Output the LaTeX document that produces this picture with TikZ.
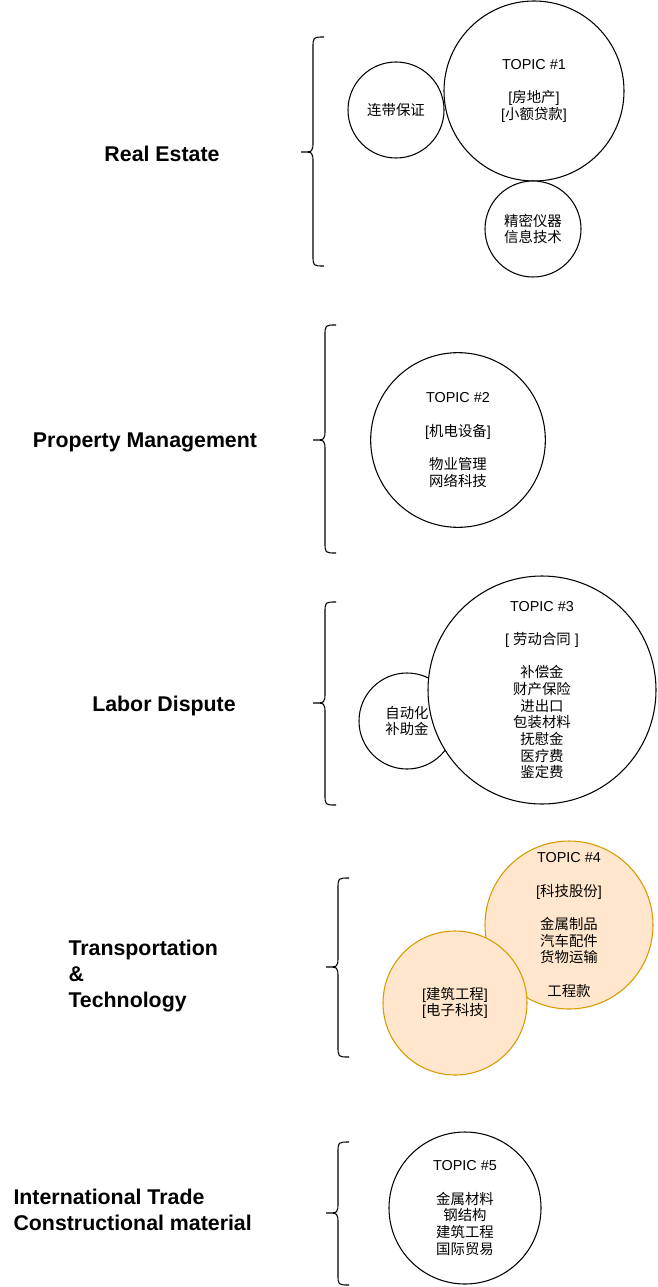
\documentclass[tikz,border=0pt]{standalone}
\usepackage{fontspec}
\setmainfont{Liberation Sans}
\newfontfamily\cjk{Noto Sans CJK SC}
\newcommand{\cn}[1]{{\cjk #1}}
\definecolor{warmfill}{HTML}{FFE6CC}
\definecolor{warmline}{HTML}{D79B00}
% curly brace: tip x, top y, tip y, bottom y
\newcommand{\groupbrace}[4]{%
  \draw (#1+23,#2) .. controls (#1+12,#2) .. (#1+12,#2+11)
    -- (#1+12,#3-11) .. controls (#1+12,#3) .. (#1,#3)
    .. controls (#1+12,#3) .. (#1+12,#3+11)
    -- (#1+12,#4-11) .. controls (#1+12,#4) .. (#1+23,#4);}
\tikzset{
  topic/.style={draw,circle,fill=white,inner sep=0pt,align=center,
    font=\fontsize{10.8pt}{12.5pt}\selectfont},
  warm/.style={fill=warmfill,draw=warmline},
  group/.style={align=left,inner sep=0pt,
    font=\bfseries\fontsize{16pt}{19.2pt}\selectfont}
}
\begin{document}
\begin{tikzpicture}[x=0.75pt,y=-0.75pt,line width=0.8pt]
  \useasboundingbox (0,0) rectangle (657,1287);
  % Real Estate
  \node [group] (estate) at (162,154) {Real Estate};
  \groupbrace{301}{37}{152}{266}
  \node [topic,minimum size=72pt] (bond) at (396,110) {\cn{连带保证}};
  \node [topic,minimum size=135pt] (topic1) at (534,91)
    {TOPIC \#1\\[12.5pt]{}[\cn{房地产}]\\{}[\cn{小额贷款}]};
  \node [topic,minimum size=72pt] (instr) at (533,229)
    {\cn{精密仪器}\\\cn{信息技术}};
  % Property Management
  \node [group] (property) at (145,442) {Property Management};
  \groupbrace{313}{325}{440}{553}
  \node [topic,minimum size=131pt] (topic2) at (458,440)
    {TOPIC \#2\\[12.5pt]{}[\cn{机电设备}]\\[12.5pt]\cn{物业管理}\\\cn{网络科技}};
  % Labor Dispute
  \node [group] (labor) at (164,706) {Labor Dispute};
  \groupbrace{313}{602}{703}{805}
  \node [topic,minimum size=72pt] (subsidy) at (407,721)
    {\cn{自动化}\\\cn{补助金}};
  \node [topic,minimum size=171pt] (topic3) at (542,690)
    {TOPIC \#3\\[12.5pt]{}[ \cn{劳动合同} ]\\[12.5pt]\cn{补偿金}\\\cn{财产保险}\\
     \cn{进出口}\\\cn{包装材料}\\\cn{抚慰金}\\\cn{医疗费}\\\cn{鉴定费}};
  % Transportation & Technology
  \node [group,anchor=west] (transport) at (68,976)
    {Transportation\\\&\\Technology};
  \groupbrace{326}{878}{967}{1057}
  \node [topic,warm,minimum size=126pt] (topic4) at (569,925)
    {TOPIC \#4\\[12.5pt]{}[\cn{科技股份}]\\[12.5pt]\cn{金属制品}\\\cn{汽车配件}\\
     \cn{货物运输}\\[12.5pt]\cn{工程款}};
  \node [topic,warm,minimum size=108pt] (build) at (455,1003)
    {[\cn{建筑工程}]\\{}[\cn{电子科技}]};
  % International Trade
  \node [group,anchor=west] (trade) at (13,1210)
    {International Trade\\Constructional material};
  \groupbrace{326}{1142}{1213}{1285}
  \node [topic,minimum size=114pt] (topic5) at (465,1208)
    {TOPIC \#5\\[12.5pt]\cn{金属材料}\\\cn{钢结构}\\\cn{建筑工程}\\\cn{国际贸易}};
\end{tikzpicture}
\end{document}
